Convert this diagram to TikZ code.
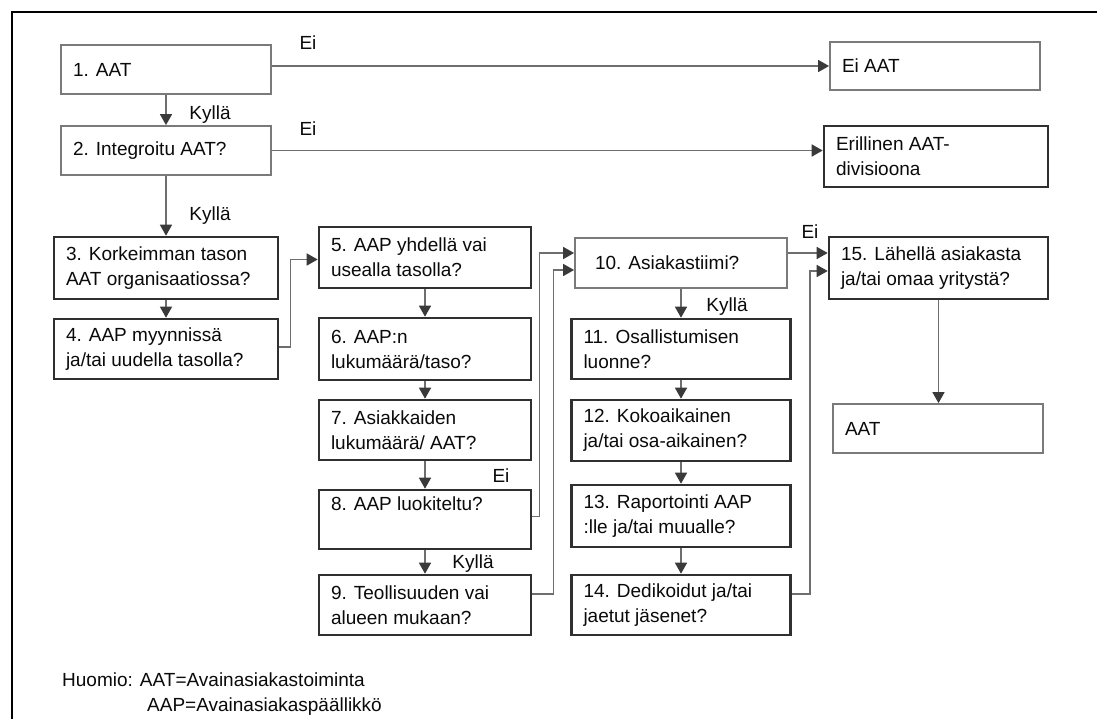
\documentclass[tikz,border=0pt]{standalone}
\usepackage{fontspec}
\setmainfont{Liberation Sans}
\usetikzlibrary{arrows.meta}
\definecolor{lightframe}{HTML}{7A7A7A}
\definecolor{darkframe}{HTML}{303030}
\definecolor{wire}{HTML}{6E6E6E}
\definecolor{tipfill}{HTML}{3A3A3A}
\definecolor{ink}{HTML}{0A0A0A}
\begin{document}
\begin{tikzpicture}[x=1pt,y=-1pt,
  every node/.style={font=\fontsize{19}{25}\selectfont, text=ink},
  basebox/.style={rectangle, fill=white, inner xsep=12pt, inner ysep=0pt, align=flush left},
  lightbox/.style={basebox, draw=lightframe, line width=1.8pt},
  darkbox/.style={basebox, draw=darkframe, line width=2.6pt},
  flow/.style={draw=wire, line width=1.5pt,
    -{Triangle[length=11pt,width=12pt,color=tipfill]}},
  tag/.style={inner sep=0pt}
]
% page and outer frame
\fill[white] (0,0) rectangle (1097,719);
\useasboundingbox (0,0) rectangle (1097,719);
\draw[black, line width=2pt] (12,719) -- (12,12) -- (1097,12);

% left column
\node[lightbox, minimum width=210pt, text width=186pt, minimum height=49pt] (b1) at (166,69.5) {1. AAT};
\node[lightbox, minimum width=210pt, text width=186pt, minimum height=49pt] (b2) at (166,150.5) {2. Integroitu AAT?};
\node[darkbox, minimum width=224pt, text width=200pt, minimum height=62pt] (b3) at (166,268) {3. Korkeimman tason\\AAT organisaatiossa?};
\node[darkbox, minimum width=224pt, text width=200pt, minimum height=60pt] (b4) at (166,349) {4. AAP myynnissä\\ja/tai uudella tasolla?};

% right-hand outcomes of the first questions
\node[lightbox, minimum width=210pt, text width=186pt, minimum height=48pt] (eiaat) at (935,66) {Ei AAT};
\node[darkbox, minimum width=224pt, text width=200pt, minimum height=61pt] (erill) at (936,156.5) {Erillinen AAT-\\divisioona};

% second column
\node[darkbox, minimum width=212pt, text width=188pt, minimum height=61pt] (b5) at (425,257.5) {5. AAP yhdellä vai\\usealla tasolla?};
\node[darkbox, minimum width=212pt, text width=188pt, minimum height=62pt] (b6) at (425,349) {6. AAP:n\\lukumäärä/taso?};
\node[darkbox, minimum width=212pt, text width=188pt, minimum height=60pt] (b7) at (425,430) {7. Asiakkaiden\\lukumäärä/ AAT?};
\node[darkbox, minimum width=212pt, text width=188pt, minimum height=59pt] (b8) at (425,519.5) {8. AAP luokiteltu?\\\strut};
\node[darkbox, minimum width=212pt, text width=188pt, minimum height=60pt] (b9) at (425,605) {9. Teollisuuden vai\\alueen mukaan?};

% third column
\node[lightbox, minimum width=212pt, text width=188pt, minimum height=50pt] (b10) at (681,263) {\hspace*{8pt}10. Asiakastiimi?};
\node[darkbox, minimum width=219pt, text width=195pt, minimum height=60pt] (b11) at (681,349) {11. Osallistumisen\\luonne?};
\node[darkbox, minimum width=219pt, text width=195pt, minimum height=61pt] (b12) at (681,430.5) {12. Kokoaikainen\\ja/tai osa-aikainen?};
\node[darkbox, minimum width=219pt, text width=195pt, minimum height=62pt] (b13) at (681,516) {13. Raportointi AAP\\:lle ja/tai muualle?};
\node[darkbox, minimum width=219pt, text width=195pt, minimum height=60pt] (b14) at (681,605) {14. Dedikoidut ja/tai\\jaetut jäsenet?};

% fourth column
\node[darkbox, minimum width=219pt, text width=195pt, minimum height=62pt] (b15) at (938.5,268) {15. Lähellä asiakasta\\ja/tai omaa yritystä?};
\node[lightbox, minimum width=210pt, text width=186pt, minimum height=49pt] (aat) at (938,428.5) {AAT};

% connectors
\draw[flow] (b1.east |- eiaat.west) -- (eiaat.west);
\draw[flow] (b1.south) -- (b2.north);
\draw[flow] (b2.east) -- (b2.east -| erill.west);
\draw[flow] (b2.south) -- (b3.north);
\draw[flow] (b3.south) -- (b4.north);
\draw[flow] ([yshift=2pt]b4.east) -- ++(11,0) |- ([yshift=-2pt]b5.west);

\draw[flow] (b5.south) -- (b6.north);
\draw[flow] (b6.south) -- (b7.north);
\draw[flow] (b7.south) -- (b8.north);
\draw[flow] (b8.south) -- (b9.north);
\draw[flow] ([yshift=3pt]b8.east) -- ++(7,0) |- ([yshift=10pt]b10.west);
\draw[flow] ([yshift=11pt]b9.east) -- ++(21,0) |- ([yshift=-7pt]b10.west);

\draw[flow] ([yshift=10pt]b10.east) -- ([yshift=10pt]b10.east -| b15.west);
\draw[flow] (b10.south) -- (b11.north);
\draw[flow] (b11.south) -- (b12.north);
\draw[flow] (b12.south) -- (b13.north);
\draw[flow] (b13.south) -- (b14.north);
\draw[flow] ([yshift=11pt]b14.east) -- ++(18,0) |- ([yshift=-3pt]b15.west);
\draw[flow] (b15.south) -- (b15.south |- aat.north);

% branch labels
\node[tag] (ei1) at (308,43) {Ei};
\node[tag] (ky1) at (210,115) {Kyllä};
\node[tag] (ei2) at (308,129) {Ei};
\node[tag] (ky2) at (210,216) {Kyllä};
\node[tag] (ei8) at (501,476) {Ei};
\node[tag] (ky8) at (473,564) {Kyllä};
\node[tag] (ei10) at (810,232) {Ei};
\node[tag] (ky10) at (727,307) {Kyllä};

% legend
\node[tag, anchor=north west, align=left] (note) at (62,673)
  {Huomio: AAT=Avainasiakastoiminta\\\hspace*{85pt}AAP=Avainasiakaspäällikkö};
\end{tikzpicture}
\end{document}
